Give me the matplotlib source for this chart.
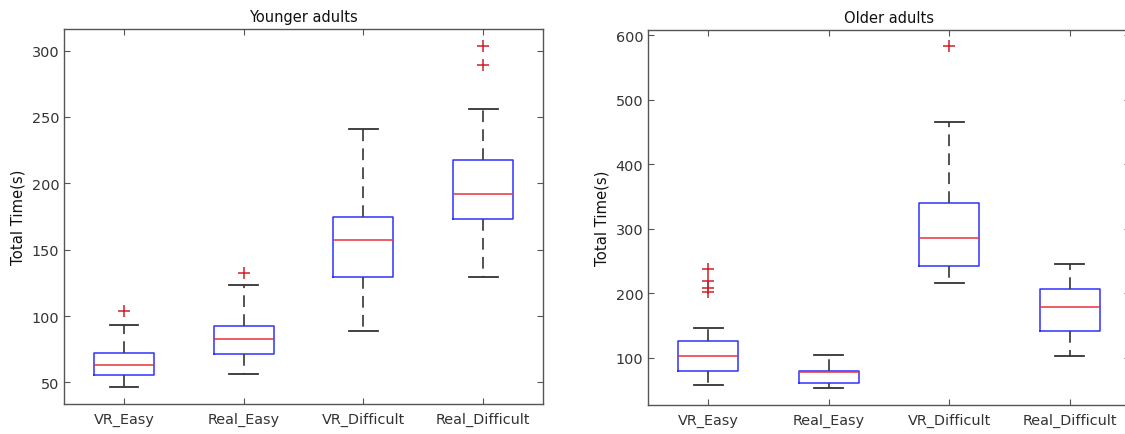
import matplotlib
matplotlib.use("Agg")
import matplotlib.pyplot as plt

categories = ["VR_Easy", "Real_Easy", "VR_Difficult", "Real_Difficult"]

# Younger adults: (low whisker, Q1, median, Q3, high whisker)
young_low = [46.2, 56.5, 88.7, 129.4]
young_q1 = [55.5, 71.4, 129.4, 173.1]
young_med = [63.3, 82.4, 157.0, 192.0]
young_q3 = [71.9, 92.7, 174.4, 217.8]
young_high = [93.0, 123.1, 241.2, 256.3]
young_fliers = [[103.8], [132.2], [], [289.4, 303.5]]

# Older adults
old_low = [56.9, 52.3, 216.0, 103.0]
old_q1 = [79.0, 60.0, 242.7, 141.6]
old_med = [103.0, 76.9, 284.8, 179.0]
old_q3 = [126.2, 79.5, 339.7, 205.7]
old_high = [146.2, 103.6, 465.0, 245.3]
old_fliers = [[237.0, 219.0, 207.3, 201.1], [], [583.6], []]

young_ticks = [50, 100, 150, 200, 250, 300]
old_ticks = [100, 200, 300, 400, 500, 600]

plt.rcParams['font.family'] = ['DejaVu Sans']

fig = plt.figure(figsize=(11.25, 4.35), dpi=100)
ax1 = fig.add_axes([0.0569, 0.069, 0.4258, 0.862])
ax2 = fig.add_axes([0.576, 0.067, 0.4285, 0.8617])

spine_c = "#555555"
text_c = "#333333"


def make_stats(low, q1, med, q3, high, fliers):
    stats = []
    for i in range(len(categories)):
        stats.append(dict(whislo=low[i], q1=q1[i], med=med[i], q3=q3[i],
                          whishi=high[i], fliers=fliers[i], label=categories[i]))
    return stats


def draw(ax, stats, title, ylim, yticks):
    ax.bxp(stats, positions=range(1, len(categories) + 1), widths=0.5,
           showfliers=True, capwidths=0.24,
           boxprops=dict(color="#3030ff", linewidth=1.1),
           medianprops=dict(color="#e8333a", linewidth=1.1),
           whiskerprops=dict(color="#444444", linewidth=1.3, linestyle=(0, (6.5, 4))),
           capprops=dict(color="#333333", linewidth=1.3),
           flierprops=dict(marker="+", markeredgecolor="#d0202a", markersize=8,
                           markeredgewidth=1.1, linestyle="none"))
    ax.set_xlim(0.5, 4.5)
    ax.set_ylim(*ylim)
    ax.set_yticks(yticks)
    ax.set_xticks(range(1, len(categories) + 1))
    ax.set_xticklabels(categories)
    ax.set_title(title, fontsize=10.5, color="#111111", pad=6)
    ax.set_ylabel("Total Time(s)", fontsize=10.7, color="#111111")
    ax.tick_params(direction="in", top=True, right=True, length=4,
                   color=spine_c, labelsize=10.4, labelcolor=text_c, width=0.8)
    ax.tick_params(axis="x", pad=6)
    for s in ax.spines.values():
        s.set_color(spine_c)
        s.set_linewidth(1.0)


draw(ax1, make_stats(young_low, young_q1, young_med, young_q3, young_high, young_fliers),
     "Younger adults", (33.7, 316.3), young_ticks)
draw(ax2, make_stats(old_low, old_q1, old_med, old_q3, old_high, old_fliers),
     "Older adults", (26.6, 608), old_ticks)

fig.savefig("out.png", dpi=100)
